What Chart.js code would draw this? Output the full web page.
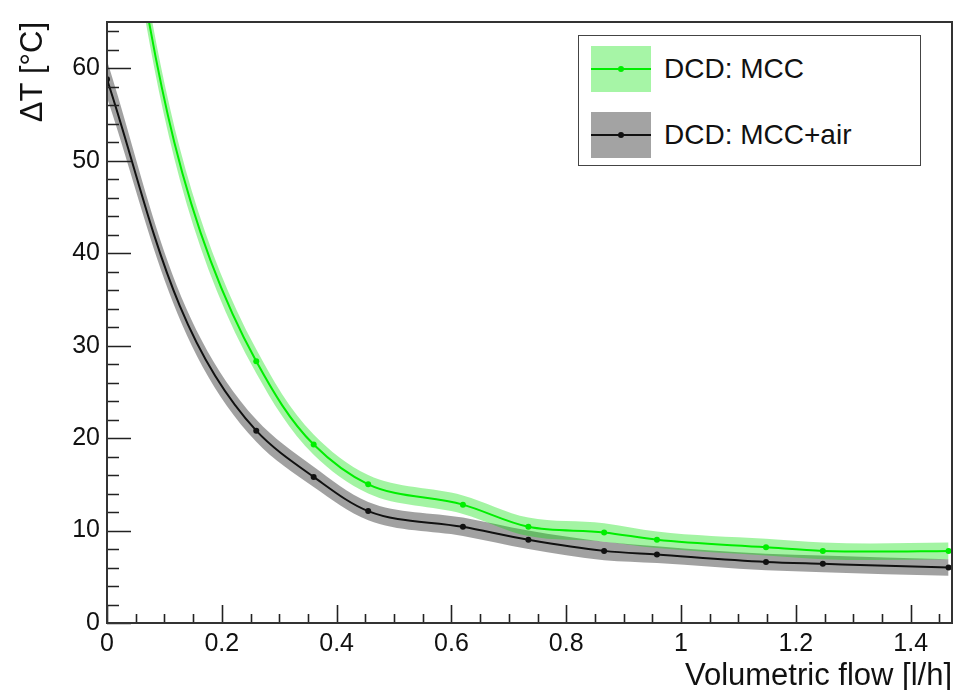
<!DOCTYPE html>
<html><head><meta charset="utf-8">
<script src="https://cdn.jsdelivr.net/npm/chart.js@4/dist/chart.umd.min.js"></script>
<style>
html,body{margin:0;padding:0;background:#fff;}
#wrap{position:relative;width:956px;height:690px;}
canvas{display:block;}
#legend{position:absolute;left:578px;top:35px;width:341px;height:129px;border:1.5px solid #444;background:#fff;font-family:"Liberation Sans",Arial,sans-serif;font-size:28px;color:#111;}
.entry{position:absolute;left:12px;height:46px;width:325px;}
.swatch{position:absolute;left:0;top:0;width:60px;height:46px;}
.swatch .ln{position:absolute;left:0;top:22px;width:60px;height:2px;}
.swatch .dot{position:absolute;left:27px;top:20px;width:6px;height:6px;border-radius:3px;}
.lbl{position:absolute;left:73px;top:50%;transform:translateY(-50%);white-space:nowrap;}
</style></head>
<body>
<div id="wrap">
<canvas id="c" width="956" height="690"></canvas>
<div id="legend"></div>
</div>
<script>
// ---- data ----
const flow      = [0, 0.26, 0.36, 0.455, 0.62, 0.734, 0.866, 0.958, 1.148, 1.247, 1.466];
const mcc       = [92, 28.3, 19.3, 15.0, 12.8, 10.4, 9.8, 9.0, 8.2, 7.8, 7.8];
const mccErr    = [2.5, 1.3, 1.1, 1.0, 1.0, 1.0, 1.0, 0.9, 0.9, 0.9, 0.9];
const mccAir    = [58.8, 20.8, 15.8, 12.1, 10.4, 9.0, 7.8, 7.4, 6.6, 6.4, 6.0];
const mccAirErr = [2.0, 1.2, 1.1, 1.0, 1.0, 1.0, 1.0, 0.9, 0.9, 0.9, 0.9];
const seriesNames = ['DCD: MCC', 'DCD: MCC+air'];
const xTickLabels = [0, 0.2, 0.4, 0.6, 0.8, 1, 1.2, 1.4];
const yTickLabels = [0, 10, 20, 30, 40, 50, 60];
const xTitle = 'Volumetric flow [l/h]';
const yTitle = 'ΔT [°C]';

const greenLine = '#00ee00', greenBand = 'rgba(0,225,0,0.36)';
const blackLine = '#111111', grayBand = 'rgba(0,0,0,0.37)';
const FONT = '"Liberation Sans", Arial, sans-serif';

function pts(vals, err, sign) {
  return flow.map((x, i) => ({ x: x, y: vals[i] + (err ? sign * err[i] : 0) }));
}

const bandBase = { pointRadius: 0, borderWidth: 0, tension: 0.4 };

// Smooth curve in the spirit of ROOT's "C" option: a parametric spline
// through the points Chart.js placed (chord-weighted tangents, soft natural ends).
const rootSmooth = {
  id: 'rootSmooth',
  beforeDatasetsDraw(chart) {
    chart.getSortedVisibleDatasetMetas().forEach(meta => {
      const line = meta.dataset;
      if (!line) return;
      line.updateControlPoints(chart.chartArea, 'x');
      const P = line.points, n = P.length;
      if (n < 3) return;
      const L = [], U = [];
      for (let i = 0; i < n - 1; i++) {
        const dx = P[i + 1].x - P[i].x, dy = P[i + 1].y - P[i].y;
        const l = Math.hypot(dx, dy) || 1e-6;
        L.push(l); U.push({ x: dx / l, y: dy / l });
      }
      const D = new Array(n);
      for (let i = 1; i < n - 1; i++) {
        const a = Math.sqrt(L[i - 1]), b = Math.sqrt(L[i]);
        const vx = (b * U[i - 1].x + a * U[i].x) / (a + b), vy = (b * U[i - 1].y + a * U[i].y) / (a + b);
        const m = Math.hypot(vx, vy) || 1;
        D[i] = { x: vx / m, y: vy / m };
      }
      D[0] = { x: (5 * U[0].x - D[1].x) / 4, y: (5 * U[0].y - D[1].y) / 4 };
      D[n - 1] = { x: (5 * U[n - 2].x - D[n - 2].x) / 4, y: (5 * U[n - 2].y - D[n - 2].y) / 4 };
      for (let i = 0; i < n; i++) {
        const p = P[i];
        const lo = i > 0 ? L[i - 1] : 0, ro = i < n - 1 ? L[i] : 0;
        p.cp1x = p.x - D[i].x * lo / 3; p.cp1y = p.y - D[i].y * lo / 3;
        p.cp2x = p.x + D[i].x * ro / 3; p.cp2y = p.y + D[i].y * ro / 3;
      }
      line._path = undefined;
    });
  }
};

const frameTicks = {
  id: 'frameTicks',
  afterDatasetsDraw(chart) {
    const { ctx, chartArea: a, scales: { x, y } } = chart;
    ctx.save();
    ctx.strokeStyle = '#222';
    ctx.lineWidth = 1.6;
    ctx.beginPath();
    for (let k = 0; k <= 32; k++) {
      const v = k * 2;
      const py = Math.round(y.getPixelForValue(v)) + 0.5;
      const len = (v % 10 === 0) ? 24 : 12;
      ctx.moveTo(a.left, py); ctx.lineTo(a.left + len, py);
    }
    for (let k = 0; k <= 29; k++) {
      const v = k * 0.05;
      const px = Math.round(x.getPixelForValue(v)) + 0.5;
      const len = (k % 4 === 0) ? 18 : 9;
      ctx.moveTo(px, a.bottom); ctx.lineTo(px, a.bottom - len);
    }
    ctx.stroke();
    ctx.lineWidth = 2;
    ctx.strokeStyle = '#333';
    ctx.strokeRect(a.left, a.top, a.right - a.left, a.bottom - a.top);
    ctx.restore();
  }
};

new Chart(document.getElementById('c'), {
  type: 'line',
  data: {
    datasets: [
      Object.assign({ label: 'airUp', data: pts(mccAir, mccAirErr, 1), fill: '+1', backgroundColor: grayBand, borderColor: 'rgba(0,0,0,0)', order: 4 }, bandBase),
      Object.assign({ label: 'airLo', data: pts(mccAir, mccAirErr, -1), fill: false, borderColor: 'rgba(0,0,0,0)', order: 4 }, bandBase),
      Object.assign({ label: 'mccUp', data: pts(mcc, mccErr, 1), fill: '+1', backgroundColor: greenBand, borderColor: 'rgba(0,0,0,0)', order: 3 }, bandBase),
      Object.assign({ label: 'mccLo', data: pts(mcc, mccErr, -1), fill: false, borderColor: 'rgba(0,0,0,0)', order: 3 }, bandBase),
      { label: seriesNames[1], data: pts(mccAir), borderColor: blackLine, backgroundColor: blackLine, borderWidth: 2,
        pointRadius: 3, pointBorderWidth: 0, pointBackgroundColor: blackLine, fill: false, tension: 0.4, order: 2 },
      { label: seriesNames[0], data: pts(mcc), borderColor: greenLine, backgroundColor: greenLine, borderWidth: 2,
        pointRadius: 3, pointBorderWidth: 0, pointBackgroundColor: greenLine, fill: false, tension: 0.4, order: 1 }
    ]
  },
  options: {
    responsive: false,
    animation: false,
    devicePixelRatio: 1,
    events: [],
    layout: { padding: { top: 13, right: 3, left: 0, bottom: 0 } },
    plugins: { legend: { display: false }, tooltip: { enabled: false } },
    scales: {
      x: {
        type: 'linear', min: 0, max: 1.472,
        afterBuildTicks: s => { s.ticks = xTickLabels.map(v => ({ value: v })); },
        afterFit: s => { s.height = 67; },
        grid: { display: false, drawTicks: false },
        border: { display: true, color: '#222', width: 2 },
        ticks: { color: '#111', font: { family: FONT, size: 25 }, padding: 6, maxRotation: 0, autoSkip: false,
                 callback: v => String(v) },
        title: { display: true, text: xTitle, align: 'end', color: '#111', font: { family: FONT, size: 31, lineHeight: 1 }, padding: { top: 0, bottom: -2 } }
      },
      y: {
        type: 'linear', min: 0, max: 65,
        afterBuildTicks: s => { s.ticks = yTickLabels.map(v => ({ value: v })); },
        afterFit: s => { s.width = 107; },
        grid: { display: false, drawTicks: false },
        border: { display: true, color: '#222', width: 2 },
        ticks: { color: '#111', font: { family: FONT, size: 25 }, padding: 7, autoSkip: false,
                 callback: v => String(v) },
        title: { display: true, text: yTitle, align: 'end', color: '#111', font: { family: FONT, size: 31, lineHeight: 1 }, padding: { top: 18, bottom: 0 } }
      }
    }
  },
  plugins: [rootSmooth, frameTicks]
});

// legend (HTML, real text)
const legendItems = [
  { name: seriesNames[0], band: 'rgb(166,245,166)', line: greenLine },
  { name: seriesNames[1], band: 'rgb(163,163,163)', line: blackLine }
];
const lg = document.getElementById('legend');
legendItems.forEach((it, i) => {
  const e = document.createElement('div');
  e.className = 'entry';
  e.style.top = (i === 0 ? 10 : 76) + 'px';
  e.innerHTML = '<div class="swatch" style="background:' + it.band + '"><div class="ln" style="background:' + it.line +
    '"></div><div class="dot" style="background:' + it.line + '"></div></div><div class="lbl"></div>';
  e.querySelector('.lbl').textContent = it.name;
  lg.appendChild(e);
});
</script>
</body></html>
